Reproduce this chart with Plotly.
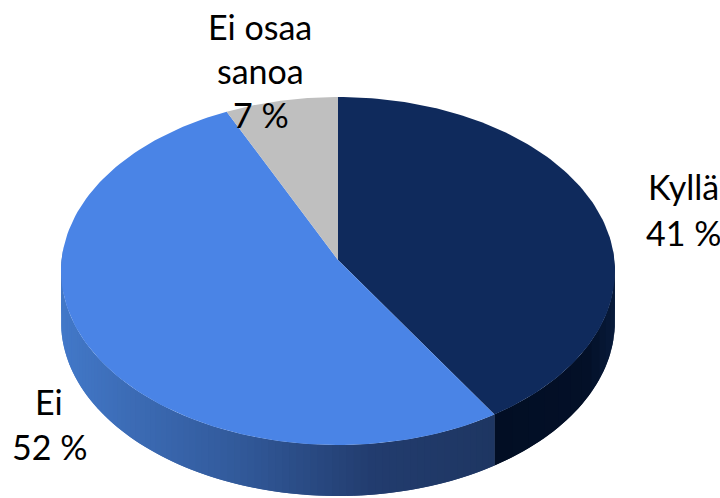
import math
import plotly.graph_objects as go

# Survey shares, clockwise from twelve o'clock
categories = ["Kyllä", "Ei", "Ei osaa sanoa"]
shares = [41, 52, 7]
top_colors = ["#0F2A5C", "#4A84E6", "#BFBFBF"]

# Projection of the tilted disc onto the page (pixel units)
APEX_X, APEX_Y = 338.0, 260.0
SCALE_X, SCALE_Y = 276.4, 173.3
TILT = 0.0632
DEPTH = 51.0


def project(theta, radius=1.0):
    """Map a clockwise angle on the disc to page coordinates with perspective."""
    across = radius * math.sin(theta)
    away = radius * math.cos(theta)
    w = 1 + TILT * away
    return APEX_X + SCALE_X * across / w, APEX_Y - SCALE_Y * away / w


def arc(start, end, steps):
    return [project(start + (end - start) * i / steps) for i in range(steps + 1)]


def lerp_color(stops, t):
    for (t0, c0), (t1, c1) in zip(stops, stops[1:]):
        if t <= t1:
            f = (t - t0) / (t1 - t0)
            rgb = [round(a + (b - a) * f) for a, b in zip(c0, c1)]
            return "rgb({},{},{})".format(*rgb)
    return "rgb({},{},{})".format(*stops[-1][1])


# Side-wall shading, from the outer end of each wall to the slice boundary
ei_wall_stops = [
    (0.00, (66, 120, 200)),
    (0.15, (60, 108, 182)),
    (0.40, (50, 90, 155)),
    (0.72, (34, 60, 110)),
    (1.00, (30, 54, 98)),
]
kylla_wall_stops = [
    (0.00, (8, 26, 58)),
    (0.20, (3, 16, 40)),
    (1.00, (2, 14, 36)),
]

fig = go.Figure()


def add_poly(points, color):
    xs = [p[0] for p in points] + [points[0][0]]
    ys = [p[1] for p in points] + [points[0][1]]
    fig.add_trace(go.Scatter(
        x=xs, y=ys, mode="lines", fill="toself", fillcolor=color,
        line=dict(color=color, width=0), hoverinfo="skip", showlegend=False,
    ))


def add_wall(start, end, stops, strips):
    # Each strip runs over into the next one so no seams show between them
    x_lo = project(start)[0]
    x_hi = project(end)[0]
    step = (end - start) / strips
    for i in range(strips):
        a = start + step * i
        b = min(a + step * 2, end) if step > 0 else max(a + step * 2, end)
        upper = arc(a, b, 3)
        lower = [(x, y + DEPTH) for x, y in reversed(upper)]
        mid = project(a + step / 2)[0]
        add_poly(upper + lower, lerp_color(stops, (mid - x_lo) / (x_hi - x_lo)))


total = sum(shares)
edges = [0.0]
for share in shares:
    edges.append(edges[-1] + 2 * math.pi * share / total)

# Walls are swept so that each one finishes at the slice boundary between them
add_wall(math.pi / 2 - 0.06, edges[1], kylla_wall_stops, 14)
add_wall(3 * math.pi / 2 + 0.06, edges[1], ei_wall_stops, 90)

for start, end, color in zip(edges, edges[1:], top_colors):
    add_poly([(APEX_X, APEX_Y)] + arc(start, end, 120), color)

# Slice labels, one annotation per line of text
label_lines = [
    ("Ei osaa", 260, 26), ("sanoa", 260, 70), ("7 %", 261, 114),
    ("Kyllä", 683, 186), ("41 %", 683, 232),
    ("Ei", 49, 401), ("52 %", 49, 446),
]
for text, x, y in label_lines:
    fig.add_annotation(
        x=x, y=y, text=text, showarrow=False, xanchor="center", yanchor="middle",
        font=dict(family="Lato", size=34, color="#000000"),
    )

fig.update_layout(
    width=720, height=498,
    margin=dict(l=0, r=0, t=0, b=0),
    paper_bgcolor="white", plot_bgcolor="white",
    xaxis=dict(range=[0, 720], visible=False, fixedrange=True),
    yaxis=dict(range=[498, 0], visible=False, fixedrange=True),
    showlegend=False,
)

fig.write_html("out.html", config={"displayModeBar": False})
